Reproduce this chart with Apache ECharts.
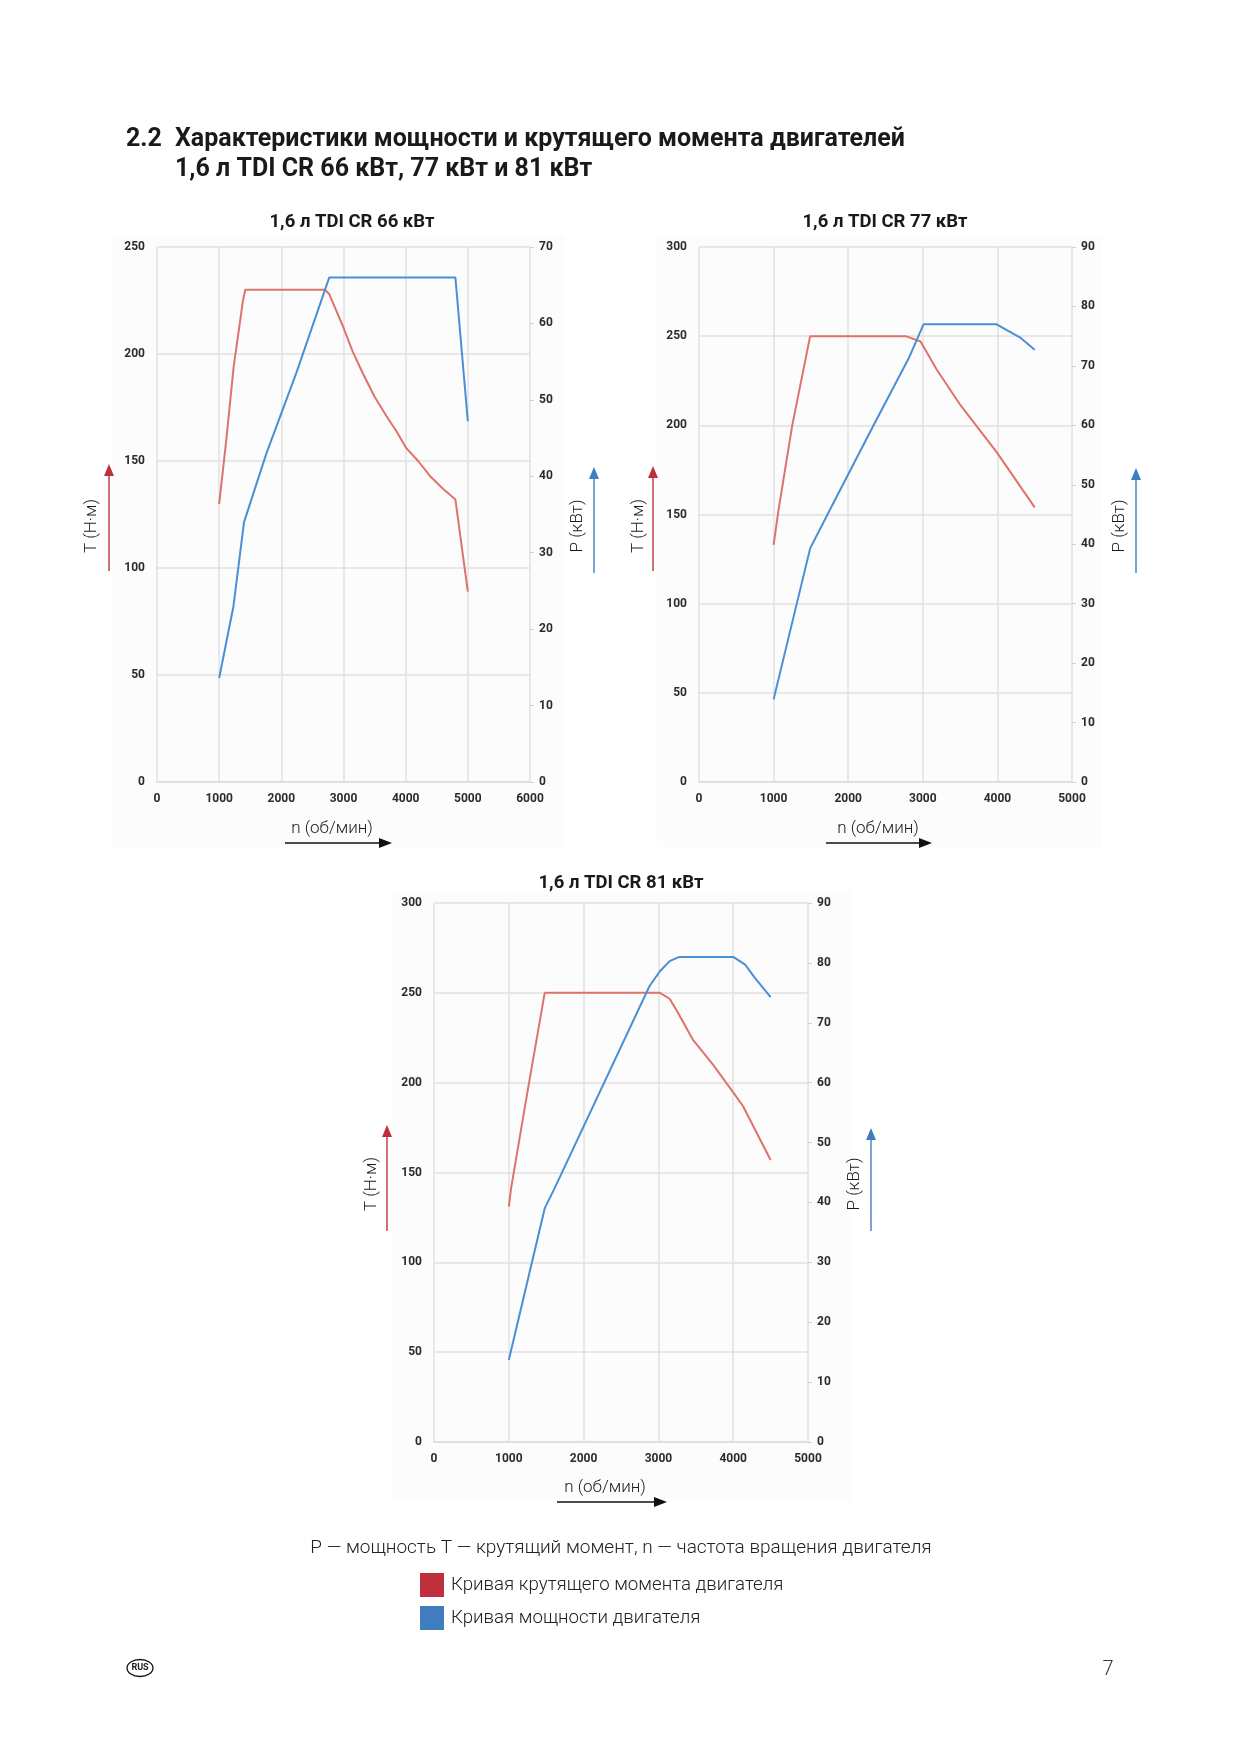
<!DOCTYPE html>
<html>
<head>
<meta charset="utf-8">
<script src="https://cdn.jsdelivr.net/npm/echarts@6/dist/echarts.min.js"></script>
<style>
  html, body { margin: 0; padding: 0; background: #fff; }
  #page { width: 1241px; height: 1755px; }
</style>
</head>
<body>
<div id="page"></div>
<script>
// --- data ---
var rpm66T   = [1000, 1115, 1233, 1383, 1420, 2700, 2770, 2990, 3150, 3310, 3500, 3690, 3850, 4010, 4200, 4390, 4600, 4800, 5000];
var torque66 = [130, 160, 194, 225, 230, 230, 228, 213, 201, 191, 180, 171, 164, 156, 150, 143, 137, 132, 89];
var rpm66P   = [1000, 1230, 1400, 1760, 2240, 2770, 4800, 5000];
var power66  = [13.6, 23, 34, 43, 53.5, 66, 66, 47.2];

var rpm77T   = [1000, 1064, 1250, 1490, 2770, 2970, 3190, 3510, 3990, 4500];
var torque77 = [133, 152, 200, 250, 250, 247, 231, 211, 185, 154];
var rpm77P   = [1000, 1490, 1755, 2340, 2820, 3010, 3990, 4300, 4500];
var power77  = [13.9, 39.3, 45.8, 60, 71.5, 77, 77, 74.8, 72.7];

var rpm81T   = [1000, 1030, 1250, 1480, 3020, 3150, 3260, 3460, 3730, 4000, 4130, 4500];
var torque81 = [131, 141, 195, 250, 250, 246.7, 239, 224, 210, 194.6, 187, 157];
var rpm81P   = [1000, 1480, 1610, 2880, 3020, 3150, 3280, 4000, 4160, 4290, 4500];
var power81  = [13.7, 39, 42.3, 76.1, 78.6, 80.3, 81, 81, 79.7, 77.5, 74.3];

var chartTitles = ['1,6 л TDI CR 66 кВт', '1,6 л TDI CR 77 кВт', '1,6 л TDI CR 81 кВт'];
var rpmMax    = [6000, 5000, 5000];
var torqueMax = [250, 300, 300];
var powerMax  = [70, 90, 90];

var RED_LINE = '#de736b';
var BLUE_LINE = '#4a8fd6';
var RED = '#c0303c';
var BLUE = '#3f7dc0';
var FONT = 'Roboto, "Noto Sans", sans-serif';

function pairs(xs, ys) {
    return xs.map(function (x, i) { return [x, ys[i]]; });
}

// plot rectangles in page pixels
var grids = [
    {left: 157, top: 247, width: 373, height: 535},
    {left: 699, top: 247, width: 373, height: 535},
    {left: 434, top: 903, width: 374, height: 539}
];

var tickLabel = {
    color: '#2b2b2b', fontFamily: FONT, fontWeight: 'bold', fontSize: 12,
    formatter: function (v) { return String(v); }
};

var xAxes = [], yAxes = [], series = [];
grids.forEach(function (g, i) {
    xAxes.push({
        type: 'value', gridIndex: i, min: 0, max: rpmMax[i], interval: 1000,
        axisLine: {show: true, lineStyle: {color: '#dcdcdc', width: 1.5}},
        axisTick: {show: false},
        splitLine: {show: true, lineStyle: {color: '#e2e2e2', width: 1.5}},
        axisLabel: Object.assign({margin: 11}, tickLabel)
    });
    yAxes.push({
        type: 'value', gridIndex: i, position: 'left', min: 0, max: torqueMax[i], interval: 50,
        axisLine: {show: false}, axisTick: {show: false},
        splitLine: {show: true, lineStyle: {color: '#e2e2e2', width: 1.5}},
        axisLabel: Object.assign({margin: 12}, tickLabel)
    });
    yAxes.push({
        type: 'value', gridIndex: i, position: 'right', min: 0, max: powerMax[i], interval: 10,
        axisLine: {show: false},
        axisTick: {show: true, length: 4, lineStyle: {color: '#d0d0d0'}},
        splitLine: {show: false},
        axisLabel: Object.assign({margin: 9}, tickLabel)
    });
});

var torqueData = [pairs(rpm66T, torque66), pairs(rpm77T, torque77), pairs(rpm81T, torque81)];
var powerData  = [pairs(rpm66P, power66), pairs(rpm77P, power77), pairs(rpm81P, power81)];

for (var i = 0; i < 3; i++) {
    series.push({
        type: 'line', xAxisIndex: i, yAxisIndex: i * 2, data: torqueData[i],
        showSymbol: false, silent: true, z: 3,
        lineStyle: {color: RED_LINE, width: 2}
    });
    series.push({
        type: 'line', xAxisIndex: i, yAxisIndex: i * 2 + 1, data: powerData[i],
        showSymbol: false, silent: true, z: 4,
        lineStyle: {color: BLUE_LINE, width: 2}
    });
}

// decorations: text, arrows, legend
var gfx = [];

function text(x, y, str, font, opts) {
    opts = opts || {};
    gfx.push({
        type: 'text', x: x, y: y, rotation: opts.rotation || 0, z: 100,
        style: {
            text: str, font: font, fill: opts.fill || '#1a1a1a',
            textAlign: opts.align || 'left', textVerticalAlign: 'middle'
        }
    });
}

function arrowUp(x, yBottom, yTip, color) {
    gfx.push({type: 'line', z: 100, shape: {x1: x, y1: yBottom, x2: x, y2: yTip + 10},
        style: {stroke: color, lineWidth: 1.4}});
    gfx.push({type: 'polygon', z: 100, shape: {points: [[x, yTip], [x - 5, yTip + 12], [x + 5, yTip + 12]]},
        style: {fill: color}});
}

function arrowRight(x1, x2, y) {
    gfx.push({type: 'line', z: 100, shape: {x1: x1, y1: y, x2: x2 - 10, y2: y},
        style: {stroke: '#111', lineWidth: 1.4}});
    gfx.push({type: 'polygon', z: 100, shape: {points: [[x2, y], [x2 - 13, y - 5], [x2 - 13, y + 5]]},
        style: {fill: '#111'}});
}

// very light panels behind each chart
[[112, 235, 453, 612], [657, 235, 445, 612], [393, 890, 460, 612]].forEach(function (r) {
    gfx.push({type: 'rect', z: -10, silent: true, shape: {x: r[0], y: r[1], width: r[2], height: r[3]},
        style: {fill: '#fcfcfc'}});
});

// page heading
var headFont = 'bold 25px ' + FONT;
text(126, 140, '2.2', headFont);
text(175, 140, 'Характеристики мощности и крутящего момента двигателей', headFont);
text(175, 170, '1,6 л TDI CR 66 кВт, 77 кВт и 81 кВт', headFont);

// chart titles
var subFont = 'bold 18.5px ' + FONT;
text(352, 222, chartTitles[0], subFont, {align: 'center'});
text(885, 222, chartTitles[1], subFont, {align: 'center'});
text(621, 883, chartTitles[2], subFont, {align: 'center'});

var axisFont = '300 17px ' + FONT;
var rot = Math.PI / 2;

// chart 1
text(92, 526, 'T (Н·м)', axisFont, {align: 'center', rotation: rot});
arrowUp(109, 571, 464, RED);
text(578, 526, 'P (кВт)', axisFont, {align: 'center', rotation: rot});
arrowUp(594, 573, 467, BLUE);
text(332, 829, 'n (об/мин)', axisFont, {align: 'center'});
arrowRight(285, 392, 843);

// chart 2
text(639, 526, 'T (Н·м)', axisFont, {align: 'center', rotation: rot});
arrowUp(653, 571, 466, RED);
text(1120, 526, 'P (кВт)', axisFont, {align: 'center', rotation: rot});
arrowUp(1136, 573, 468, BLUE);
text(878, 829, 'n (об/мин)', axisFont, {align: 'center'});
arrowRight(826, 932, 843);

// chart 3
text(372, 1184, 'T (Н·м)', axisFont, {align: 'center', rotation: rot});
arrowUp(387, 1231, 1125, RED);
text(855, 1184, 'P (кВт)', axisFont, {align: 'center', rotation: rot});
arrowUp(871, 1231, 1128, BLUE);
text(605, 1488, 'n (об/мин)', axisFont, {align: 'center'});
arrowRight(557, 667, 1502);

// caption and legend
var capFont = '300 19px ' + FONT;
text(621, 1548, 'P — мощность T — крутящий момент, n — частота вращения двигателя', capFont, {align: 'center', fill: '#222'});
gfx.push({type: 'rect', z: 100, shape: {x: 420, y: 1573, width: 24, height: 24}, style: {fill: RED}});
text(451, 1585, 'Кривая крутящего момента двигателя', '300 18.7px ' + FONT, {fill: '#222'});
gfx.push({type: 'rect', z: 100, shape: {x: 420, y: 1606, width: 24, height: 24}, style: {fill: BLUE}});
text(451, 1618, 'Кривая мощности двигателя', '300 18.7px ' + FONT, {fill: '#222'});

// footer
gfx.push({type: 'ellipse', z: 100, shape: {cx: 140, cy: 1668, rx: 13, ry: 8.5},
    style: {fill: 'none', stroke: '#111', lineWidth: 1.3}});
text(140, 1668, 'RUS', 'bold 9px ' + FONT, {align: 'center'});
text(1108, 1670, '7', '300 20px ' + FONT, {align: 'center', fill: '#333'});

var chart = echarts.init(document.getElementById('page'), null, {renderer: 'canvas'});
chart.setOption({
    animation: false,
    backgroundColor: '#ffffff',
    grid: grids.map(function (g) { return Object.assign({containLabel: false}, g); }),
    xAxis: xAxes,
    yAxis: yAxes,
    series: series,
    graphic: gfx
});
</script>
</body>
</html>
